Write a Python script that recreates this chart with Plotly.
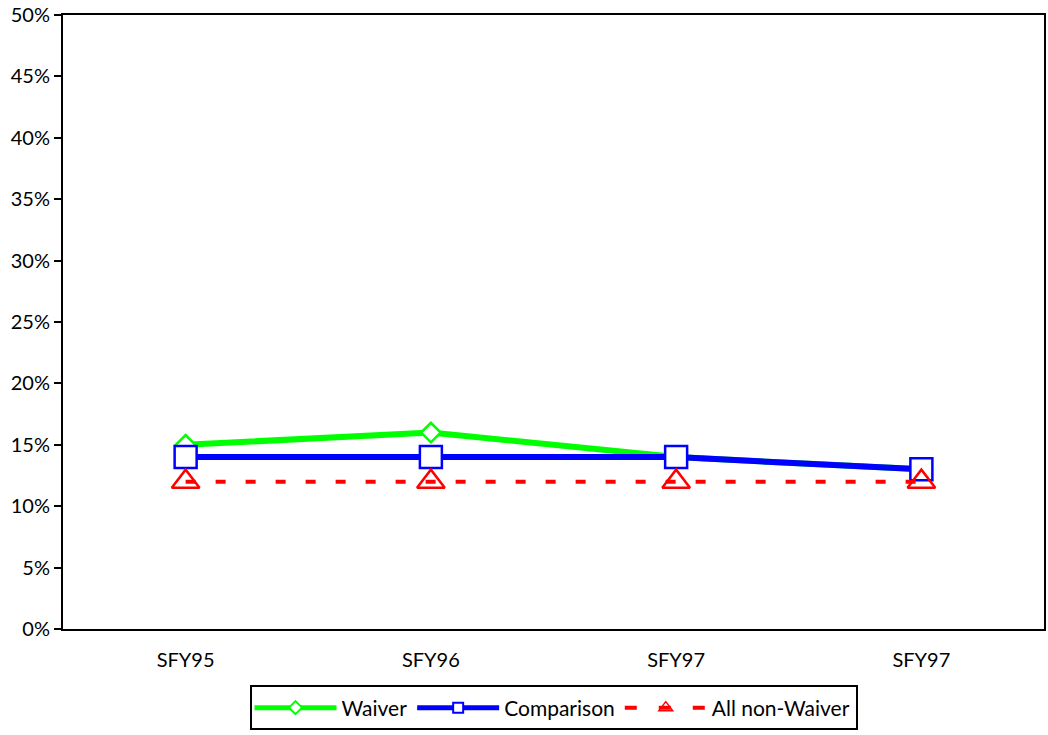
import plotly.graph_objects as go

# Fiscal-year categories (the last label repeats as printed on the axis)
categories = ["SFY95", "SFY96", "SFY97", "SFY97"]
waiver = [15, 16, 14, 13]
comparison = [14, 14, 14, 13]
all_non_waiver = [12, 12, 12, 12]
y_ticks = list(range(0, 51, 5))

xpos = [i + 0.5 for i in range(len(categories))]

series = [
    dict(name="Waiver", y=waiver, color="#00FF00", symbol="diamond",
         size=15, lw=6, dash="solid", fill="white"),
    dict(name="Comparison", y=comparison, color="#0000FF", symbol="square",
         size=22, lw=6, dash="solid", fill="white"),
    dict(name="All non-Waiver", y=all_non_waiver, color="#FF0000",
         symbol="triangle-up-open", size=24, lw=4, dash="10px,20px",
         fill="#FF0000"),
]

fig = go.Figure()
for s in series:
    # plotted series
    fig.add_trace(go.Scatter(
        x=xpos, y=s["y"], name=s["name"], mode="lines+markers",
        legendgroup=s["name"], showlegend=False,
        line=dict(color=s["color"], width=s["lw"], dash=s["dash"]),
        marker=dict(symbol=s["symbol"], size=s["size"], color=s["fill"],
                    line=dict(color=s["color"], width=2.5)),
    ))
for s in series:
    # legend key with a smaller marker
    solid = s["dash"] == "solid"
    fig.add_trace(go.Scatter(
        x=[None], y=[None], name=s["name"], mode="lines+markers",
        legendgroup=s["name"], showlegend=True,
        line=dict(color=s["color"], width=5 if solid else 4,
                  dash="solid" if solid else "12px,22px"),
        marker=dict(symbol=s["symbol"], size=10 if solid else 12,
                    color=s["fill"],
                    line=dict(color=s["color"], width=2 if solid else 1.5)),
    ))

fig.update_layout(
    width=1048, height=735,
    margin=dict(l=63, r=2, t=13, b=106),
    paper_bgcolor="white", plot_bgcolor="white",
    font=dict(family="Lato, Open Sans, sans-serif", size=20, color="black"),
    showlegend=True,
    legend=dict(
        orientation="h", x=0.5, xanchor="center", y=-0.092, yanchor="top",
        bordercolor="black", borderwidth=2, bgcolor="white",
        font=dict(size=21), itemwidth=82,
    ),
    xaxis=dict(
        range=[0, 4], tickvals=xpos, ticktext=categories,
        showgrid=False, zeroline=False,
        showline=True, linecolor="black", linewidth=2, mirror=True,
        ticks="", ticklabelstandoff=12,
    ),
    yaxis=dict(
        range=[0, 50], tickvals=y_ticks,
        ticktext=[f"{v}%" for v in y_ticks],
        showgrid=False, zeroline=False,
        showline=True, linecolor="black", linewidth=2, mirror=True,
        ticks="outside", ticklen=7, tickwidth=2, tickcolor="black",
    ),
)

fig.write_html("out.html")
